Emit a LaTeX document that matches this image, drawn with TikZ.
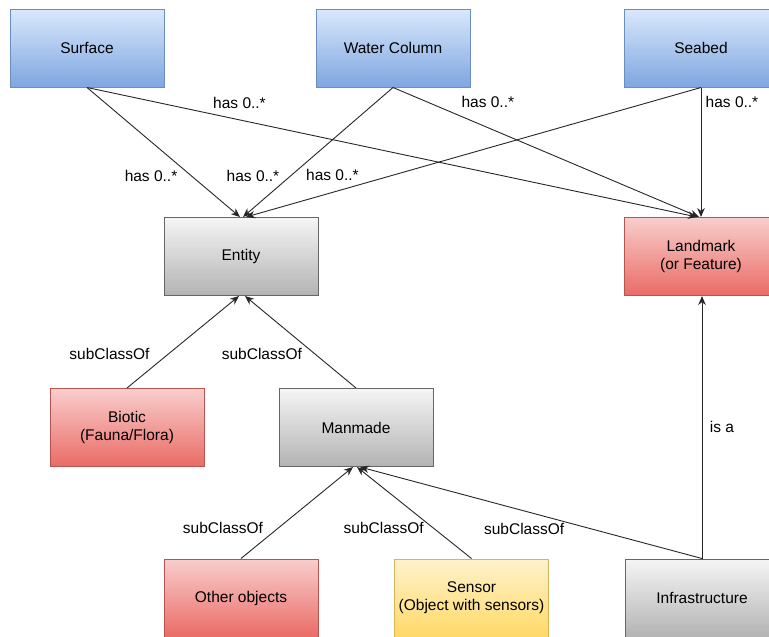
\documentclass[tikz,border=0pt]{standalone}
\usepackage{fontspec}
\setmainfont{Liberation Sans}
\usetikzlibrary{arrows.meta}

\definecolor{bluetop}{HTML}{DAE8FC}
\definecolor{bluebot}{HTML}{7EA6E0}
\definecolor{blueline}{HTML}{6C8EBF}
\definecolor{redtop}{HTML}{F8CECC}
\definecolor{redbot}{HTML}{EA6B66}
\definecolor{redline}{HTML}{B85450}
\definecolor{greytop}{HTML}{F5F5F5}
\definecolor{greybot}{HTML}{B3B3B3}
\definecolor{greyline}{HTML}{666666}
\definecolor{yellowtop}{HTML}{FFF2CC}
\definecolor{yellowbot}{HTML}{FFD966}
\definecolor{yellowline}{HTML}{D6B656}

\begin{document}
\begin{tikzpicture}[x=1pt, y=-1pt,
box/.style={minimum width=154pt, minimum height=78pt, line width=1pt,
  align=center, font=\fontsize{15.5}{18}\selectfont},
bluebox/.style={box, draw=blueline, top color=bluetop, bottom color=bluebot},
redbox/.style={box, draw=redline, top color=redtop, bottom color=redbot},
greybox/.style={box, draw=greyline, top color=greytop, bottom color=greybot},
yellowbox/.style={box, draw=yellowline, top color=yellowtop, bottom color=yellowbot},
arr/.style={-{Stealth[length=9pt, width=7.5pt]}, line width=0.9pt, black!85},
lbl/.style={font=\fontsize{15.5}{18}\selectfont, inner sep=0pt, text=black}]
\useasboundingbox (0,0) rectangle (769,637);
\node[bluebox] (sur)  at (87,48)      {Surface};
\node[bluebox] (wc)   at (393,48)     {Water Column};
\node[bluebox] (seab) at (701,48)     {Seabed};
\node[greybox] (ent)  at (241,256.5)  {Entity};
\node[redbox]  (lm)   at (701,256.5)  {Landmark\\(or Feature)};
\node[redbox]  (bio)  at (127,427.5)  {Biotic\\(Fauna/Flora)};
\node[greybox] (man)  at (356,427.5)  {Manmade};
\node[redbox]  (oth)  at (241,598)    {Other objects};
\node[yellowbox] (sen) at (471.5,598) {Sensor\\(Object with sensors)};
\node[greybox] (inf)  at (702,598)    {Infrastructure};
%
\draw[arr] (sur.south) -- node[lbl, pos=0.68, xshift=-40pt] {has 0..*} ([xshift=-1pt]ent.north);
\draw[arr] (sur.south) -- node[lbl, pos=0.25, yshift=17pt] {has 0..*} ([xshift=-4pt]lm.north);
\draw[arr] (wc.south) -- node[lbl, pos=0.68, xshift=-38pt] {has 0..*} ([xshift=2pt]ent.north);
\draw[arr] (wc.south) -- node[lbl, pos=0.31, yshift=26pt] {has 0..*} ([xshift=-2pt]lm.north);
\draw[arr] (seab.south) -- node[lbl, pos=0.81, yshift=17pt] {has 0..*} ([xshift=5pt]ent.north);
\draw[arr] (seab.south) -- node[lbl, pos=0.115, xshift=31pt] {has 0..*} (lm.north);
%
\draw[arr] (bio.north) -- node[lbl, pos=0.37, xshift=-59pt] {subClassOf} ([xshift=-2pt]ent.south);
\draw[arr] (man.north) -- node[lbl, pos=0.37, xshift=-53pt] {subClassOf} ([xshift=4pt]ent.south);
\draw[arr] (oth.north) -- node[lbl, pos=0.33, xshift=-55pt] {subClassOf} ([xshift=-3pt]man.south);
\draw[arr] (sen.north) -- node[lbl, pos=0.33, xshift=-50pt] {subClassOf} ([xshift=1pt]man.south);
\draw[arr] (inf.north) -- node[lbl, pos=0.52, yshift=-18pt] {subClassOf} ([xshift=4pt]man.south);
\draw[arr] (inf.north) -- node[lbl, pos=0.5, xshift=20pt] {is a} ([xshift=1pt]lm.south);
\end{tikzpicture}
\end{document}
